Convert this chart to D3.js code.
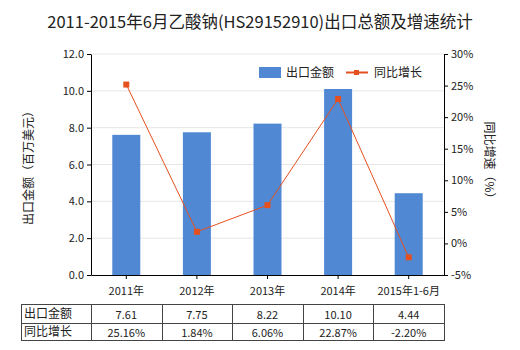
<!DOCTYPE html>
<html><head><meta charset="utf-8">
<script src="https://cdn.jsdelivr.net/npm/d3@7"></script>
<style>body{margin:0;background:#fff;font-family:"Microsoft YaHei","Noto Sans CJK SC",sans-serif;}</style>
</head><body><svg id="c" width="520" height="350"></svg>
<script>
const categories = ["2011年","2012年","2013年","2014年","2015年1-6月"];
const exportValues = [7.61, 7.75, 8.22, 10.10, 4.44];
const growthValues = [25.16, 1.84, 6.06, 22.87, -2.20];
const exportLabels = ["7.61","7.75","8.22","10.10","4.44"];
const growthLabels = ["25.16%","1.84%","6.06%","22.87%","-2.20%"];
const leftTicks = [0,2,4,6,8,10,12];
const rightTicks = [-5,0,5,10,15,20,25,30];

const svg = d3.select("#c");
const font = '"Noto Sans CJK SC", sans-serif';
const L = 91, R = 444, T = 54, B = 275;
const x = d3.scaleBand().domain(categories).range([L, R]);
const yL = d3.scaleLinear().domain([0,12]).range([B, T]);
const yR = d3.scaleLinear().domain([-5,30]).range([B, T]);

svg.append("text").attr("x",260).attr("y",28).attr("text-anchor","middle")
  .attr("font-family",font).attr("font-size",16.5).attr("fill","#222")
  .text("2011-2015年6月乙酸钠(HS29152910)出口总额及增速统计");

// grid
svg.append("g").selectAll("line").data(leftTicks.slice(1)).join("line")
  .attr("x1",L).attr("x2",R).attr("y1",d=>yL(d)).attr("y2",d=>yL(d))
  .attr("stroke","#e6e6e6").attr("stroke-width",1);

// bars
svg.append("g").selectAll("rect").data(exportValues).join("rect")
  .attr("x",(d,i)=>x(categories[i])+x.bandwidth()/2-14).attr("width",28)
  .attr("y",d=>yL(d)).attr("height",d=>B-yL(d)).attr("fill","#5088d4");

// axes
const ga = svg.append("g").attr("transform",`translate(${L},0)`)
  .call(d3.axisLeft(yL).tickValues(leftTicks).tickFormat(d3.format(".1f")).tickSize(4).tickSizeOuter(0));
const gr = svg.append("g").attr("transform",`translate(${R},0)`)
  .call(d3.axisRight(yR).tickValues(rightTicks).tickFormat(d=>d+"%").tickSize(4).tickSizeOuter(0));
const gx = svg.append("g").attr("transform",`translate(0,${B})`)
  .call(d3.axisBottom(x).tickSize(4).tickSizeOuter(0));
[ga,gr,gx].forEach(g=>{
  g.selectAll("path,line").attr("stroke","#000");
  g.selectAll("text").attr("font-family",font).attr("font-size",11).attr("fill","#222");
});
gx.selectAll("text").attr("dy","1.2em");

// line
const line = d3.line().x((d,i)=>x(categories[i])+x.bandwidth()/2).y(d=>yR(d));
svg.append("path").datum(growthValues).attr("d",line).attr("fill","none")
  .attr("stroke","#e5501e").attr("stroke-width",1);
svg.append("g").selectAll("rect").data(growthValues).join("rect")
  .attr("x",(d,i)=>x(categories[i])+x.bandwidth()/2-3).attr("y",d=>yR(d)-3)
  .attr("width",6).attr("height",6).attr("fill","#e5501e");

// axis titles
svg.append("text").attr("transform","translate(33,165) rotate(-90)").attr("text-anchor","middle")
  .attr("font-family",font).attr("font-size",12).attr("fill","#222").text("出口金额（百万美元）");
svg.append("text").attr("transform","translate(485,163) rotate(90)").attr("text-anchor","middle")
  .attr("font-family",font).attr("font-size",12).attr("fill","#222").text("同比增速（%）");

// legend
svg.append("rect").attr("x",259).attr("y",67).attr("width",22).attr("height",11).attr("fill","#5088d4");
svg.append("text").attr("x",286).attr("y",77).attr("font-family",font).attr("font-size",12).attr("fill","#222").text("出口金额");
svg.append("line").attr("x1",346).attr("x2",368).attr("y1",72.5).attr("y2",72.5).attr("stroke","#e5501e").attr("stroke-width",2);
svg.append("rect").attr("x",354).attr("y",70).attr("width",5).attr("height",5).attr("fill","#e5501e");
svg.append("text").attr("x",374).attr("y",77).attr("font-family",font).attr("font-size",12).attr("fill","#222").text("同比增长");

// table
const tT = 304, tM = 323, tB = 340, tL = 21;
const tbl = svg.append("g");
const vlines = [tL, L].concat(categories.map(c=>x(c)+x.bandwidth()));
tbl.append("rect").attr("x",tL+0.5).attr("y",tT+0.5).attr("width",R-tL).attr("height",tB-tT)
  .attr("fill","none").attr("stroke","#444");
tbl.append("line").attr("x1",tL).attr("x2",R+0.5).attr("y1",tM+0.5).attr("y2",tM+0.5).attr("stroke","#444");
tbl.selectAll("line.v").data(vlines.slice(1,-1)).join("line").attr("class","v")
  .attr("x1",d=>Math.round(d)+0.5).attr("x2",d=>Math.round(d)+0.5).attr("y1",tT).attr("y2",tB).attr("stroke","#444");
const rowNames = ["出口金额","同比增长"];
[[exportLabels, tT],[growthLabels, tM]].forEach(([labs, y0], r)=>{
  const yc = r===0 ? (tT+tM)/2 : (tM+tB)/2;
  tbl.append("text").attr("x",tL+3).attr("y",yc+4).attr("font-family",font).attr("font-size",12).attr("fill","#222").text(rowNames[r]);
  tbl.selectAll("text.v"+r).data(labs).join("text").attr("class","v"+r)
    .attr("x",(d,i)=>x(categories[i])+x.bandwidth()/2).attr("y",yc+5).attr("text-anchor","middle")
    .attr("font-family",font).attr("font-size",11).attr("fill","#222").text(d=>d);
});
</script></body></html>
